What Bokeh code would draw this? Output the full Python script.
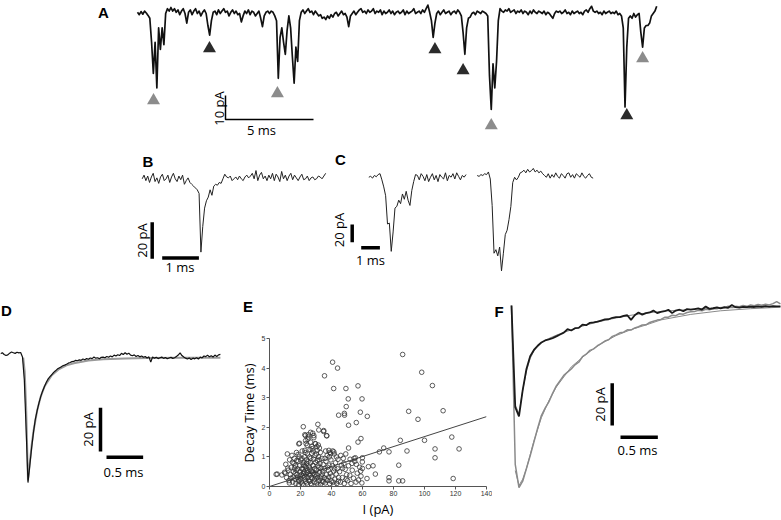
import numpy as np
from bokeh.plotting import figure
from bokeh.models import Label, Range1d, FixedTicker, Spacer
from bokeh.layouts import column, row
from bokeh.embed import file_html
from bokeh.resources import INLINE

# ------------------------------------------------------------------ data
# Panel A: continuous recording, pA, one sample every 0.1 ms
A_dt = 0.1
A_trace = [0.5, -0.5, 0.8, -0.3, 1.0, 0.2, -0.8, -2, -12, -25,
           -12, -31, -6, -15, -6, -13, 0, 2, 1, 2.5,
           1, 2, 0.5, 1.5, -0.5, 1, 2, 0, -4, 0.5,
           1.5, -0.5, 1, 2, 0, 1, -1, 0.5, 1.5, 0,
           -5, -9, -3, 0.5, 1, -0.5, 1.5, 0, 1, 2,
           0.5, 1, -1, 0.5, 1.5, 0, 1, -0.5, 0, -3.5,
           -1, 1, 0, 1.5, -0.5, 1, 0.5, -1, 0, 1,
           -2, -5.5, -1, 0.5, 1, 0, 1, 0.5, -1, -3,
           -27, -10, -6, -12, -17, -7, -1, -6, -18, -29,
           -14, -20, -3, 0.5, 1.5, 0, 1, 2, 0.5, 1,
           -0.5, 1, 0, -1, -0.5, -2, -1.5, -2.5, -1, -2,
           -0.5, -1.5, 0, 0.5, -1, 0, 1, -0.5, 0, -1.5,
           -5.5, -1, 0, 1, -0.5, 0.5, 1.5, 2, 0.5, 1,
           0, 1.5, 0.5, 1, 2, 0, 1, 0.5, 1.5, -0.5,
           1, 0, 0.5, 1.5, 0, 1, -0.5, 0.5, 1, 0,
           0.5, 1.5, -0.5, 1, 0, 0.5, 1, 2, 0, 0.5,
           1, 0, 1.5, 0.5, 2, 3.5, 0.5, -3, -10, -4,
           0, 1, -0.5, 0.5, 1.5, 0, 0.5, 1, -0.5, 0.5,
           1, 0, 1.5, 0.5, -1, -8, -17, -6, -2, -1.5,
           0, 0.5, -0.5, 1, 0.5, 0, 1, 0.5, 0, -1,
           -26, -40, -21, -31, -20, -3, 2, 1, 0.5, 1.5,
           1, 2, 0.5, 1, 1.5, 0, 1, 0.5, 1.5, 0,
           1, 0.5, -0.5, 1, 0, 1.5, 0.5, 0, 1, 0.5,
           0, 1, -0.5, 0.5, 0, -1, -2, 0, 1, 0.5,
           1, 0, 0.5, 1.5, 0, 0.5, -0.5, 1, 0, 0.5,
           1, 0, 0.5, -0.5, 1, 1.5, 0.5, 2, 3, 1,
           0.5, 1, 0, 0.5, -0.5, 1, 0, 0.5, 1, 0,
           0.5, 0, 1, -0.5, 0, -1, -6, -39, -14, -2,
           -1, -2, 0, -1.5, -0.5, 0, -8, -14, -6, -5,
           -5, -4, -1, 0, 1, 3]
A_marker_ms = [0.91, 4.09, 7.95, 16.9, 18.5, 20.1, 27.8, 28.7]
A_marker_pa = [-36.3, -14.6, -33.3, -15.0, -23.8, -46.7, -42.5, -18.8]
A_marker_col = ["#8c8c8c", "#2b2b2b", "#8c8c8c", "#2b2b2b", "#2b2b2b", "#8c8c8c", "#2b2b2b", "#8c8c8c"]
A_bar_pa, A_bar_ms = 10, 5

# Panel B: single event, one sample every 0.05 ms
B_dt = 0.05
B_trace = [0, 2, -1, 1.5, -2, 1, 3, -1.5, 0.5, -2.5, 1, 2.5, -1, 0, 2, -2, 1, 3, 0, -1.5,
           1.5, -0.5, 2, -3, -1, 0.5, -2, -3,
           -4, -5, -6, -8, -40, -26, -16, -12, -10, -6, -9, -4, -3, -3.5, -2, -2.5, 0, 2.5, 1, 0.5, 1.5, -1,
           0, 1, -0.5, 1.5, 0, -1, 1, 2, 0.5, 1.5,
           3, 0, 4.5, -1, 2, 3.5, 0, 1.5, -1, 2,
           0, 3, -1, 2.5, 1, -1.5, 4, 0, 2, -1,
           1.5, 3, -0.5, 2, 0.5, -1, 1, 2.5, -0.5, 0,
           1.5, -1, 0.5, 1, -0.5, 0, 1.5, 1, 0, 1.5, 3]
B_bar_pa, B_bar_ms = 20, 1

# Panel C: two multi-peak events, one sample every 0.1 ms
C_dt = 0.1
C1_trace = [0, 1, -1, 2, 0.5, 3, 4, -3, -11, -21, -53, -52, -84, -62, -35, -33, -26, -30, -19, -25,
            -16, -26, -32, -15, -5, 3,
            2, -3, 4, 1, -4, 3, -5, 0, 4, -3, 2, -5, 3, 0, -2, 5, -4, 2, 0, 4, -2, 5, 1, -3, 2, 0, 3]
C2_trace = [0, -1, 1, 0, 2, 1, 4,
            -4, -34, -88, -84, -91, -81, -108, -88, -67, -62, -50, -35, -8, -2, -5, -2, 3, 4,
            6, 3, 7, 4, 5.5, 8, 4, 6, 3, 5, 2,
            0, -2, 2, -3, 1, -2, 3, -1, -3, 2, 0, -3, 2, 3, -2, 1, -3, 2, 0, -2, 3, -1, -3, 0, 2, -2, -3]
C_bar_pa, C_bar_ms = 20, 1

# Panel D: averaged event with fit, one sample every 0.025 ms
D_dt = 0.025
D_trace = [0, 0.5, -0.3, -0.8, -0.5, 0.3, 0.8, 0.5, 0.2, 0.7, 0.4, 0.6,
           -1.5, -12, -35, -59,
           -51, -43, -36, -30, -26, -22.5, -19.5, -17, -15, -13, -11.5, -10.5, -9.5, -8.5, -7.8, -7,
           -6.5, -6, -5.5, -5.2, -4.8, -4.3, -4, -3.6, -3.5, -3, -3.2, -2.8, -3, -2.4, -2.7, -2.2,
           -2.5, -1.9, -2.2, -1.5, -2, -1.8, -2.3, -1.6,
           -1.5, -1.8, -1.2, -1.6, -1.0, -1.4, -0.6, -1.0, -0.4, -0.8,
           0.2, -0.3, 0.5, -0.2, 0.3, -0.6, -0.9, -0.5, -1.2, -0.8,
           -1.4, -1.0, -1.6, -1.2, -1.9, -1.4, -3.8, -1.5, -2.0, -1.6,
           -2.2, -1.8, -1.5, -2.1, -1.7, -2.3, -1.9, -1.6, -2.1, -1.8,
           -1.2, -0.6, 0.4, -0.8, -1.5, -2.0, -2.4, -1.9, -2.6, -2.0,
           -2.3, -1.8, -2.4, -1.5, -1.9, -1.0, -1.3, -0.6, -1.4, -0.9,
           -1.5, -0.6, -1.2, -0.5, -0.3]
D_fit_ms = [0.31, 0.33, 0.35, 0.375, 0.40, 0.425, 0.45, 0.50, 0.55, 0.60, 0.70, 0.80, 0.90,
            1.00, 1.20, 1.40, 1.70, 2.00, 2.50, 3.00]
D_fit_pa = [-1.8, -8, -25, -58, -50, -42, -35.5, -26, -19.5, -15, -9.8, -7, -5.3,
            -4.3, -3.1, -2.5, -2.1, -1.9, -1.8, -1.8]
D_bar_pa, D_bar_ms = 20, 0.5

# Panel E: decay time vs amplitude
E_points_outliers = [(35.5, 3.74), (40.7, 4.2), (43.9, 4.0), (41.4, 3.31), (49.3, 3.31), (57.1, 3.4),
                     (50.8, 2.96), (59.7, 2.96), (49.5, 2.7), (44.6, 2.41), (48.3, 2.47), (48.4, 2.41),
                     (58.6, 2.51), (63.1, 2.37), (56.0, 2.16), (51.0, 2.07), (85.9, 4.46), (98.2, 3.86),
                     (105.1, 3.41), (89.8, 2.54), (95.8, 2.27), (112.0, 2.56), (21.8, 2.02), (31.2, 2.1),
                     (34.9, 1.86), (37.0, 1.71), (51.0, 1.3), (59.0, 1.62), (57.1, 1.5), (73.7, 1.3),
                     (70.9, 1.17), (77.1, 1.17), (84.4, 1.56), (88.7, 1.2), (100.0, 1.56), (117.6, 1.67),
                     (122.3, 1.27), (106.8, 1.27), (106.8, 0.97), (83.4, 0.72), (77.1, 0.3), (77.1, 0.19),
                     (83.4, 0.19), (85.9, 0.19), (118.5, 0.27), (68.3, 0.42), (66.8, 0.7), (63.8, 0.67),
                     (62.9, 0.27), (59.9, 0.61), (59.9, 0.83), (59.9, 0.97), (55.4, 0.97), (53.2, 0.78),
                     (19.4, 1.46), (4.3, 0.41), (8.0, 0.39), (9.7, 0.48), (5.0, 0.42),
                     (31.8, 1.91), (26.5, 1.83), (23.2, 1.72), (25.0, 1.67), (28.6, 1.72), (35.0, 1.89),
                     (36.8, 1.72), (18.9, 1.44), (24.3, 1.39), (29.7, 1.44), (27.5, 1.28), (22.8, 1.22),
                     (30.8, 1.22), (38.3, 1.22), (39.4, 1.11), (41.5, 1.17)]
E_points_cluster = [(10.5, 0.75), (11, 0.3), (11.5, 1.1), (12, 0.55), (12.5, 0.2), (13, 0.9), (13.5, 0.4),
                    (14, 0.65), (14.5, 1.05), (15, 0.15), (11.8, 0.62), (12.8, 0.12), (13.8, 0.28),
                    (14.8, 0.82), (10.2, 0.45),
                    (15.5, 0.5), (16, 0.95), (16.3, 0.25), (16.8, 0.7), (17, 0.1), (17.4, 1.15), (17.8, 0.4),
                    (18.2, 0.6), (18.5, 0.85), (18.9, 0.18), (19.2, 1.0), (19.6, 0.35), (15.8, 0.78),
                    (16.6, 0.45), (17.2, 0.55), (18, 0.3), (18.7, 0.05), (19.4, 0.7), (19.9, 0.5),
                    (15.2, 0.32), (16.1, 0.62), (17.6, 0.88), (18.4, 1.08), (19.1, 0.22),
                    (20.2, 0.9), (20.5, 0.15), (20.8, 0.6), (21.1, 1.2), (21.4, 0.35), (21.7, 0.75),
                    (22, 0.05), (22.3, 0.5), (22.6, 1.0), (22.9, 0.25), (23.2, 0.68), (23.5, 0.42),
                    (23.8, 0.9), (24.1, 0.12), (24.4, 1.1), (24.7, 0.55), (20.4, 0.4), (21, 0.08),
                    (21.6, 0.58), (22.2, 0.82), (22.8, 0.32), (23.4, 0.18), (24, 0.78), (24.6, 0.3),
                    (20.9, 0.95), (21.9, 0.45), (23, 1.15), (23.9, 0.62), (24.9, 0.85), (20.1, 0.25),
                    (22.5, 0.7), (24.2, 0.48), (23.6, 1.45), (24.8, 1.6), (22.8, 1.75), (23.3, 1.55),
                    (25, 1.75),
                    (25.2, 0.2), (25.5, 0.65), (25.8, 1.0), (26.1, 0.38), (26.4, 0.8), (26.7, 0.1),
                    (27, 0.52), (27.3, 1.12), (27.6, 0.28), (27.9, 0.72), (28.2, 0.45), (28.5, 0.92),
                    (28.8, 0.15), (29.1, 0.6), (29.4, 1.05), (29.7, 0.33), (25.4, 0.42), (26, 0.58),
                    (26.6, 0.95), (27.2, 0.05), (27.8, 0.5), (28.4, 0.7), (29, 0.25), (29.6, 0.82),
                    (25.9, 0.18), (26.9, 0.3), (28, 1.2), (29.2, 0.4), (26.5, 1.5), (27.4, 1.35),
                    (28.6, 1.65), (29.5, 1.45), (26.2, 1.25), (27.9, 1.8),
                    (30.2, 0.55), (30.5, 0.12), (30.8, 0.88), (31.1, 0.3), (31.4, 0.7), (31.7, 1.0),
                    (32, 0.2), (32.3, 0.48), (32.6, 0.78), (32.9, 0.08), (33.2, 0.62), (33.5, 0.35),
                    (33.8, 0.95), (34.1, 0.18), (34.4, 0.52), (34.7, 0.75), (30.6, 0.4), (31.3, 0.05),
                    (32.1, 0.9), (33, 0.28), (33.9, 0.42), (34.6, 0.15), (31.9, 0.65), (30.3, 1.1),
                    (32.8, 1.15), (31.5, 1.4), (30.6, 1.35), (32.2, 1.3),
                    (35.2, 0.3), (35.6, 0.6), (36, 0.12), (36.4, 0.85), (36.8, 0.4), (37.2, 1.05),
                    (37.6, 0.2), (38, 0.55), (38.4, 0.72), (38.8, 0.1), (39.2, 0.45), (39.6, 0.9),
                    (35.8, 0.95), (36.6, 0.25), (37.4, 0.65), (38.2, 0.32), (39, 1.15), (39.8, 0.18),
                    (36.2, 1.2), (38.6, 1.0),
                    (40.2, 0.35), (40.6, 0.7), (41, 0.15), (41.4, 0.52), (41.8, 1.1), (42.2, 0.25),
                    (42.6, 0.8), (43, 0.42), (43.4, 0.1), (43.8, 0.6), (44.2, 0.92), (44.6, 0.3),
                    (40.8, 1.2), (42, 0.6), (43.2, 1.0), (44.4, 0.18), (41.6, 0.05),
                    (45.2, 0.5), (45.8, 0.15), (46.4, 0.72), (47, 0.3), (47.6, 0.95), (48.2, 0.1),
                    (48.8, 0.58), (49.4, 0.25), (46, 1.05), (48, 0.78), (49.8, 0.4), (47.2, 0.62),
                    (49.2, 1.1),
                    (50.4, 0.2), (51, 0.7), (51.8, 0.38), (52.6, 0.1), (53.4, 0.55), (54.2, 0.28),
                    (55, 0.85), (55.8, 0.15), (56.6, 0.45), (57.4, 0.22), (58.2, 0.65), (59, 0.35),
                    (59.6, 0.12), (54.6, 0.95), (52, 0.92), (56, 0.75), (58.8, 0.52)]
E_fit_current = [0, 140]
E_fit_decay = [0.0, 2.36]
E_xticks = [0, 20, 40, 60, 80, 100, 120, 140]
E_yticks = [0, 1, 2, 3, 4, 5]

# Panel F: two averaged events with fits, one sample every 0.05 ms
F_dt = 0.05
F_black = [0, -48, -52.4, -40, -30, -24, -21, -19, -17.5, -16.5,
           -16, -15.4, -14.6, -13.7, -12.8, -11.2, -11.8, -10.7, -10.6, -9.0,
           -9.3, -8.2, -8.0, -7.6, -7.1, -6.6, -6.5, -5.8, -5.5, -5.5,
           -4.9, -4.6, -6.8, -4.6, -3.3, -4.3, -3.6, -3.3, -2.4, -3.6,
           -3.0, -2.7, -2.0, -3.6, -2.4, -2.0, -2.7, -1.7, -2.0, -1.7,
           -1.4, -1.9, -0.5, -1.6, -1.3, -0.9, -1.4, -0.8, -1.1, 0.2,
           -0.8, -1.0, -0.6, -0.8, -0.5, -0.7, -0.4, -0.6, -0.3, -0.5,
           -0.3, -0.4, -0.4]
F_gray = [0, -75, -86, -83, -77, -71, -64.5, -58, -52, -48.5,
          -45.5, -41.5, -38, -35.5, -33, -31.5, -30, -28, -26.8, -24.2,
          -23, -21.2, -20.5, -19, -18, -16.8, -16.2, -14.6, -13.9, -12.9,
          -12.6, -11.5, -11.6, -10.6, -10.0, -9.2, -9.1, -8.0, -7.4, -6.9,
          -6.6, -5.6, -5.5, -4.6, -4.8, -3.9, -4.1, -3.3, -3.0, -2.8,
          -2.3, -2.5, -1.8, -2.0, -1.4, -1.5, -1.0, -1.1, -0.3, -0.9,
          -0.4, -0.6, 0, -0.4, 0.3, -0.1, 0.5, 0.1, 0.6, 0.3,
          0.9, 1.8, 0.8]
F_black_fit_ms = [0.05, 0.1, 0.15, 0.2, 0.25, 0.3, 0.4, 0.5, 0.6, 0.8, 1.0, 1.2, 1.4, 1.6, 1.8, 2.0,
                  2.4, 2.8, 3.2, 3.6]
F_black_fit_pa = [-47, -51, -40, -31, -25, -21.5, -17.5, -15.6, -14, -11.5, -9.2, -7.4, -5.9, -4.6,
                  -3.6, -2.8, -1.8, -1.2, -0.8, -0.5]
F_gray_fit_ms = [0.05, 0.1, 0.15, 0.2, 0.3, 0.4, 0.5, 0.6, 0.8, 1.0, 1.2, 1.4, 1.6, 1.8, 2.0, 2.4,
                 2.8, 3.2, 3.6]
F_gray_fit_pa = [-78, -85, -82, -77, -64, -53, -45, -38.5, -29, -23, -18, -14.2, -11.4, -9.2, -6.8,
                 -4.2, -2.5, -1.5, -0.8]
F_bar_pa, F_bar_ms = 20, 0.5

# ------------------------------------------------------------------ layout helpers (page pixels)
PAGE_W, PAGE_H = 781, 520
LETTER_FONT = "Liberation Sans"
TEXT_FONT = "Open Sans"


def trace_fig(rect, calib):
    rx0, rx1, ry0, ry1 = rect
    x0, pxms, yb, pxpa = calib
    p = figure(width=rx1 - rx0, height=ry1 - ry0,
               x_range=Range1d((rx0 - x0) / pxms, (rx1 - x0) / pxms),
               y_range=Range1d(-(ry1 - yb) / pxpa, -(ry0 - yb) / pxpa),
               output_backend="svg", toolbar_location=None, tools="",
               x_axis_location=None, y_axis_location=None, min_border=0)
    p.outline_line_color = None
    p.grid.visible = False
    p.background_fill_color = None
    p.border_fill_color = None

    def to_data(xr, yr):
        return (xr - x0) / pxms, -(yr - yb) / pxpa
    return p, to_data


def text(p, to_data, s, xr, yr, size="13px", bold=False, rotate=False, font=TEXT_FONT):
    x, y = to_data(xr, yr)
    p.add_layout(Label(x=x, y=y, text=s, text_font=font,
                       text_font_style="bold" if bold else "normal",
                       text_font_size=size, text_align="center", text_baseline="middle",
                       angle=np.pi / 2 if rotate else 0, text_color="black"))


def letter(p, to_data, ch, xr, yr):
    text(p, to_data, ch, xr, yr, size="15px", bold=True, font=LETTER_FONT)


def bars(p, vx, vy, pa, hx, hy, ms, lw, corner=False):
    if corner:
        p.line([vx, vx, vx + ms], [vy + pa, vy, vy], line_width=lw, line_color="black")
    else:
        p.line([vx, vx], [vy, vy + pa], line_width=lw, line_color="black")
        p.line([hx, hx + ms], [hy, hy], line_width=lw, line_color="black")


# ------------------------------------------------------------------ panel A
pA, toA = trace_fig((0, 781, 0, 142), (137, 17.6, 13, 2.4))
tA = np.arange(len(A_trace)) * A_dt
pA.line(tA, A_trace, line_color="#111111", line_width=1.7, line_join="round")
pA.scatter(A_marker_ms, A_marker_pa, marker="triangle", size=13, fill_color=A_marker_col,
           line_color=None)
sa_x, sa_y = toA(225, 119)
bars(pA, sa_x, sa_y, A_bar_pa, sa_x, sa_y, A_bar_ms, 1.5, corner=True)
text(pA, toA, "10 pA", 218.5, 108, rotate=True)
text(pA, toA, "5 ms", 261, 129)
letter(pA, toA, "A", 103, 12)

# ------------------------------------------------------------------ panel B
pB, toB = trace_fig((130, 330, 142, 292), (141.7, 36.7, 178.3, 1.833))
tB = np.arange(len(B_trace)) * B_dt
pB.line(tB, B_trace, line_color="#222222", line_width=1.0)
bvx, bvy = toB(151.7, 258.3)
bhx, bhy = toB(161.7, 257.5)
bars(pB, bvx, bvy, B_bar_pa, bhx, bhy, B_bar_ms, 3.5)
text(pB, toB, "20 pA", 141.3, 240, rotate=True)
text(pB, toB, "1 ms", 179.5, 266)
letter(pB, toB, "B", 147.5, 161)

# ------------------------------------------------------------------ panel C
pC, toC = trace_fig((330, 620, 142, 292), (368.3, 18.7, 176.7, 0.883))
tC1 = np.arange(len(C1_trace)) * C_dt
pC.line(tC1, C1_trace, line_color="#222222", line_width=1.0)
c2_t0, c2_y0 = toC(476.7, 175.0)
tC2 = np.arange(len(C2_trace)) * C_dt + c2_t0
pC.line(tC2, np.array(C2_trace) + c2_y0, line_color="#222222", line_width=1.0)
cvx, cvy = toC(351.7, 241.7)
chx, chy = toC(360.7, 247.3)
bars(pC, cvx, cvy, C_bar_pa, chx, chy, C_bar_ms, 3.5)
text(pC, toC, "20 pA", 338, 229.5, rotate=True)
text(pC, toC, "1 ms", 370, 259.5)
letter(pC, toC, "C", 340, 159)

# ------------------------------------------------------------------ panel D (also hosts E's left texts)
pD, toD = trace_fig((0, 258, 292, 520), (0, 73.3, 353.3, 2.183))
pD.line(D_fit_ms, D_fit_pa, line_color="#9a9a9a", line_width=2.0)
tD = np.arange(len(D_trace)) * D_dt
pD.line(tD, D_trace, line_color="#111111", line_width=1.2)
dvx, dvy = toD(100, 451)
dhx, dhy = toD(106, 456.7)
bars(pD, dvx, dvy, D_bar_pa, dhx, dhy, D_bar_ms, 3.5)
text(pD, toD, "20 pA", 87.5, 429, rotate=True)
text(pD, toD, "0.5 ms", 123, 471)
letter(pD, toD, "D", 6, 310)
letter(pD, toD, "E", 247.5, 306)
text(pD, toD, "Decay Time (ms)", 248.5, 412.5, rotate=True)

# ------------------------------------------------------------------ panel E
E_rect = (258, 492, 292, 520)
E_frame = (269, 486, 338, 488)
pE = figure(width=E_rect[1] - E_rect[0], height=E_rect[3] - E_rect[2],
            x_range=Range1d(0, 140), y_range=Range1d(0, 5),
            output_backend="svg", toolbar_location=None, tools="",
            min_border_left=E_frame[0] - E_rect[0], min_border_right=E_rect[1] - E_frame[1],
            min_border_top=E_frame[2] - E_rect[2], min_border_bottom=E_rect[3] - E_frame[3])
pE.outline_line_color = None
pE.grid.visible = False
pE.background_fill_color = None
pE.border_fill_color = None
allE = E_points_outliers + E_points_cluster
E_current = [a for a, b in allE]
E_decay = [b for a, b in allE]
pE.line(E_fit_current, E_fit_decay, line_color="#444444", line_width=1.0)
pE.scatter(E_current, E_decay, marker="circle", size=4.6, fill_color=None,
           line_color="#333333", line_width=0.8)
pE.xaxis.ticker = FixedTicker(ticks=E_xticks)
pE.yaxis.ticker = FixedTicker(ticks=E_yticks)
pE.xaxis.axis_label = "I (pA)"
for ax in (pE.xaxis[0], pE.yaxis[0]):
    ax.axis_line_color = "#555555"
    ax.major_tick_line_color = "#555555"
    ax.minor_tick_line_color = None
    ax.major_tick_out = 3
    ax.major_tick_in = 0
    ax.major_label_text_font_size = "7px"
    ax.major_label_text_font = LETTER_FONT
    ax.major_label_text_color = "#333333"
    ax.major_label_standoff = 1
    ax.axis_label_text_font = TEXT_FONT
    ax.axis_label_text_font_size = "13px"
    ax.axis_label_text_font_style = "normal"
    ax.axis_label_text_color = "black"
    ax.axis_label_standoff = 1

# ------------------------------------------------------------------ panel F
pF, toF = trace_fig((492, 781, 292, 520), (511, 74.7, 305, 2.117))
tF = np.arange(len(F_gray)) * F_dt
pF.line(tF, F_gray, line_color="#8a8a8a", line_width=1.5)
pF.line(F_gray_fit_ms, F_gray_fit_pa, line_color="#8a8a8a", line_width=1.0)
pF.line(F_black_fit_ms, F_black_fit_pa, line_color="#8a8a8a", line_width=1.0)
pF.line(tF, F_black, line_color="#1a1a1a", line_width=1.8)
fvx, fvy = toF(611.7, 425)
fhx, fhy = toF(620, 436.7)
bars(pF, fvx, fvy, F_bar_pa, fhx, fhy, F_bar_ms, 3.5)
text(pF, toF, "20 pA", 599, 404, rotate=True)
text(pF, toF, "0.5 ms", 637, 449)
letter(pF, toF, "F", 498.5, 311)

# ------------------------------------------------------------------ assemble
h2 = 292 - 142
layout = column(
    pA,
    row(Spacer(width=130, height=h2), pB, pC, Spacer(width=PAGE_W - 620, height=h2)),
    row(column(pD), column(pE), column(pF)),
)

open("out.html", "w").write(file_html(layout, INLINE))
